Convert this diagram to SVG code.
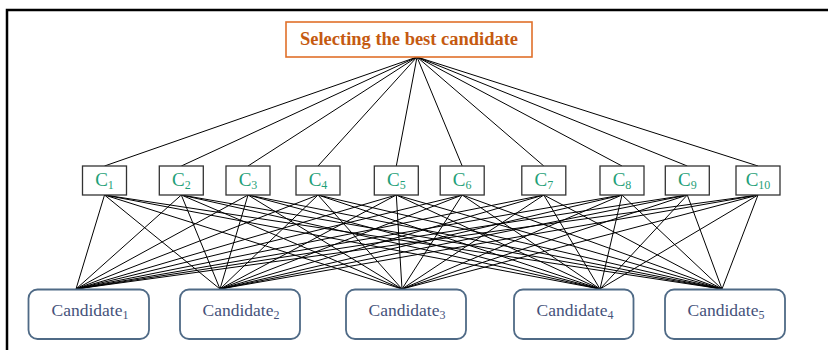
<svg xmlns="http://www.w3.org/2000/svg" width="828" height="350" viewBox="0 0 828 350">
<style>
.frame{fill:none;stroke:#000;stroke-width:2.5}
.title-box{fill:#fff;stroke:#e0702a;stroke-width:1.6}
.title{font-family:'Liberation Serif',serif;font-weight:bold;font-size:18px;fill:#c55a11}
.cbox{fill:#fff;stroke:#333;stroke-width:1.3}
.clab{font-family:'Liberation Serif',serif;font-size:19px;fill:#1f9f78}
.sub{font-size:12px}
.kbox{fill:#fff;stroke:#4f6a86;stroke-width:1.8}
.klab{font-family:'Liberation Serif',serif;font-size:17.5px;fill:#45527a}
.conn line{stroke:#000;stroke-width:1}
</style>
<rect width="828" height="350" fill="#fff"/>
<path class="frame" d="M7,352 V10 H830"/>
<g class="conn" id="connectors">
<line x1="417" y1="57" x2="104.5" y2="166"/>
<line x1="417" y1="57" x2="181.3" y2="166"/>
<line x1="417" y1="57" x2="248" y2="166"/>
<line x1="417" y1="57" x2="318" y2="166"/>
<line x1="417" y1="57" x2="396.3" y2="166"/>
<line x1="417" y1="57" x2="462.2" y2="166"/>
<line x1="417" y1="57" x2="543.8" y2="166"/>
<line x1="417" y1="57" x2="622" y2="166"/>
<line x1="417" y1="57" x2="687.3" y2="166"/>
<line x1="417" y1="57" x2="758" y2="166"/>
<line x1="104.5" y1="195" x2="76" y2="289"/><line x1="104.5" y1="195" x2="220" y2="289"/><line x1="104.5" y1="195" x2="402" y2="289"/><line x1="104.5" y1="195" x2="600" y2="289"/><line x1="104.5" y1="195" x2="722" y2="289"/>
<line x1="181.3" y1="195" x2="76" y2="289"/><line x1="181.3" y1="195" x2="220" y2="289"/><line x1="181.3" y1="195" x2="402" y2="289"/><line x1="181.3" y1="195" x2="600" y2="289"/><line x1="181.3" y1="195" x2="722" y2="289"/>
<line x1="248" y1="195" x2="76" y2="289"/><line x1="248" y1="195" x2="220" y2="289"/><line x1="248" y1="195" x2="402" y2="289"/><line x1="248" y1="195" x2="600" y2="289"/><line x1="248" y1="195" x2="722" y2="289"/>
<line x1="318" y1="195" x2="76" y2="289"/><line x1="318" y1="195" x2="220" y2="289"/><line x1="318" y1="195" x2="402" y2="289"/><line x1="318" y1="195" x2="600" y2="289"/><line x1="318" y1="195" x2="722" y2="289"/>
<line x1="396.3" y1="195" x2="76" y2="289"/><line x1="396.3" y1="195" x2="220" y2="289"/><line x1="396.3" y1="195" x2="402" y2="289"/><line x1="396.3" y1="195" x2="600" y2="289"/><line x1="396.3" y1="195" x2="722" y2="289"/>
<line x1="462.2" y1="195" x2="76" y2="289"/><line x1="462.2" y1="195" x2="220" y2="289"/><line x1="462.2" y1="195" x2="402" y2="289"/><line x1="462.2" y1="195" x2="600" y2="289"/><line x1="462.2" y1="195" x2="722" y2="289"/>
<line x1="543.8" y1="195" x2="76" y2="289"/><line x1="543.8" y1="195" x2="220" y2="289"/><line x1="543.8" y1="195" x2="402" y2="289"/><line x1="543.8" y1="195" x2="600" y2="289"/><line x1="543.8" y1="195" x2="722" y2="289"/>
<line x1="622" y1="195" x2="76" y2="289"/><line x1="622" y1="195" x2="220" y2="289"/><line x1="622" y1="195" x2="402" y2="289"/><line x1="622" y1="195" x2="600" y2="289"/><line x1="622" y1="195" x2="722" y2="289"/>
<line x1="687.3" y1="195" x2="76" y2="289"/><line x1="687.3" y1="195" x2="220" y2="289"/><line x1="687.3" y1="195" x2="402" y2="289"/><line x1="687.3" y1="195" x2="600" y2="289"/><line x1="687.3" y1="195" x2="722" y2="289"/>
<line x1="758" y1="195" x2="76" y2="289"/><line x1="758" y1="195" x2="220" y2="289"/><line x1="758" y1="195" x2="402" y2="289"/><line x1="758" y1="195" x2="600" y2="289"/><line x1="758" y1="195" x2="722" y2="289"/>
</g>
<g id="goal">
<rect class="title-box" x="286" y="22" width="246" height="35"/>
<text class="title" x="409" y="45" text-anchor="middle" textLength="218" lengthAdjust="spacingAndGlyphs">Selecting the best candidate</text>
</g>
<g id="c1"><rect class="cbox" x="82.5" y="166" width="44" height="29"/><text class="clab" x="104.5" y="186" text-anchor="middle">C<tspan class="sub" dy="3">1</tspan></text></g>
<g id="c2"><rect class="cbox" x="159.3" y="166" width="44" height="29"/><text class="clab" x="181.3" y="186" text-anchor="middle">C<tspan class="sub" dy="3">2</tspan></text></g>
<g id="c3"><rect class="cbox" x="226" y="166" width="44" height="29"/><text class="clab" x="248" y="186" text-anchor="middle">C<tspan class="sub" dy="3">3</tspan></text></g>
<g id="c4"><rect class="cbox" x="296" y="166" width="44" height="29"/><text class="clab" x="318" y="186" text-anchor="middle">C<tspan class="sub" dy="3">4</tspan></text></g>
<g id="c5"><rect class="cbox" x="374.3" y="166" width="44" height="29"/><text class="clab" x="396.3" y="186" text-anchor="middle">C<tspan class="sub" dy="3">5</tspan></text></g>
<g id="c6"><rect class="cbox" x="440.2" y="166" width="44" height="29"/><text class="clab" x="462.2" y="186" text-anchor="middle">C<tspan class="sub" dy="3">6</tspan></text></g>
<g id="c7"><rect class="cbox" x="521.8" y="166" width="44" height="29"/><text class="clab" x="543.8" y="186" text-anchor="middle">C<tspan class="sub" dy="3">7</tspan></text></g>
<g id="c8"><rect class="cbox" x="600" y="166" width="44" height="29"/><text class="clab" x="622" y="186" text-anchor="middle">C<tspan class="sub" dy="3">8</tspan></text></g>
<g id="c9"><rect class="cbox" x="665.3" y="166" width="44" height="29"/><text class="clab" x="687.3" y="186" text-anchor="middle">C<tspan class="sub" dy="3">9</tspan></text></g>
<g id="c10"><rect class="cbox" x="736" y="166" width="44" height="29"/><text class="clab" x="758" y="186" text-anchor="middle">C<tspan class="sub" dy="3">10</tspan></text></g>
<g id="cand1"><rect class="kbox" x="28.5" y="289.5" width="120.5" height="49.5" rx="9"/><text class="klab" x="90" y="316" text-anchor="middle">Candidate<tspan class="sub" dy="3">1</tspan></text></g>
<g id="cand2"><rect class="kbox" x="180" y="289.5" width="120" height="49.5" rx="9"/><text class="klab" x="241" y="316" text-anchor="middle">Candidate<tspan class="sub" dy="3">2</tspan></text></g>
<g id="cand3"><rect class="kbox" x="346" y="289.5" width="120" height="49.5" rx="9"/><text class="klab" x="407" y="316" text-anchor="middle">Candidate<tspan class="sub" dy="3">3</tspan></text></g>
<g id="cand4"><rect class="kbox" x="514" y="289.5" width="119.5" height="49.5" rx="9"/><text class="klab" x="575" y="316" text-anchor="middle">Candidate<tspan class="sub" dy="3">4</tspan></text></g>
<g id="cand5"><rect class="kbox" x="665" y="289.5" width="120" height="49.5" rx="9"/><text class="klab" x="726" y="316" text-anchor="middle">Candidate<tspan class="sub" dy="3">5</tspan></text></g>
</svg>
